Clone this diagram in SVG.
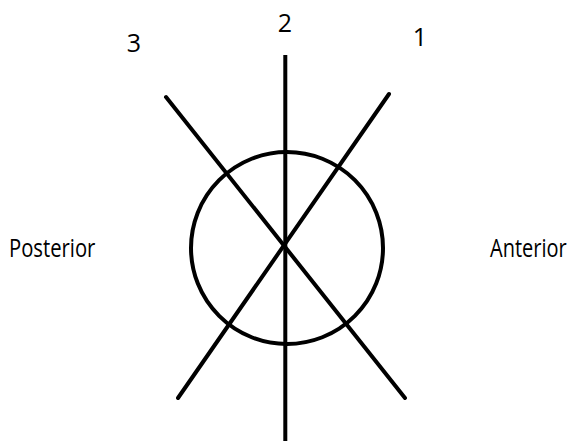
<svg xmlns="http://www.w3.org/2000/svg" width="572" height="441" viewBox="0 0 572 441">
<style>
.ln{stroke:#000;stroke-width:4;fill:none;stroke-linecap:round}
.t{font-family:"Open Sans","Noto Sans",sans-serif;font-size:25px;fill:#000}
</style>
<rect width="572" height="441" fill="#fff"/>
<g id="circle"><circle class="ln" cx="287" cy="248" r="96"/></g>
<g id="connectors">
<line class="ln" x1="285.3" y1="55" x2="285.3" y2="445" style="stroke-linecap:butt"/>
<line class="ln" x1="389" y1="94" x2="178" y2="398"/>
<line class="ln" x1="166" y1="97" x2="405" y2="398"/>
</g>
<g id="label-2"><text class="t" x="285" y="32" text-anchor="middle">2</text></g>
<g id="label-3"><text class="t" x="134" y="52" text-anchor="middle">3</text></g>
<g id="label-1"><text class="t" x="420" y="46" text-anchor="middle">1</text></g>
<g id="label-posterior"><text class="t" transform="translate(9 257) scale(0.81 1)">Posterior</text></g>
<g id="label-anterior"><text class="t" transform="translate(490 257) scale(0.8 1)">Anterior</text></g>
</svg>
